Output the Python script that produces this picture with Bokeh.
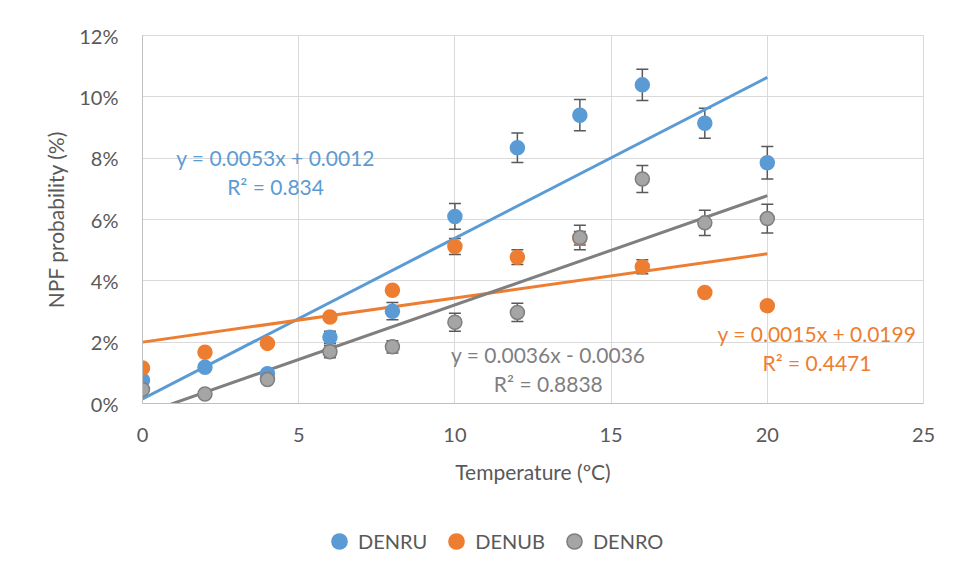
import numpy as np
from bokeh.plotting import figure
from bokeh.layouts import column
from bokeh.models import (ColumnDataSource, Whisker, TeeHead, FixedTicker,
                          NumeralTickFormatter, Legend, LegendItem)
from bokeh.core.properties import value
from bokeh.embed import file_html
from bokeh.resources import INLINE

# ---- data (fractions) ----
temperature = [0, 2, 4, 6, 8, 10, 12, 14, 16, 18, 20]
denru = [0.0076, 0.0118, 0.0097, 0.0216, 0.0301, 0.0610, 0.0834, 0.0940, 0.1039, 0.0914, 0.0785]
denru_err = [0.0008, 0.0010, 0.0008, 0.0020, 0.0028, 0.0042, 0.0048, 0.0051, 0.0051, 0.0049, 0.0053]
denub = [0.0116, 0.0167, 0.0196, 0.0282, 0.0369, 0.0512, 0.0477, 0.0539, 0.0446, 0.0362, 0.0319]
denub_err = [0.0005, 0.0005, 0.0005, 0.0008, 0.0010, 0.0026, 0.0024, 0.0022, 0.0023, 0.0012, 0.0008]
denro = [0.0046, 0.0031, 0.0078, 0.0169, 0.0185, 0.0265, 0.0297, 0.0541, 0.0732, 0.0589, 0.0603]
denro_err = [0.0005, 0.0005, 0.0006, 0.0020, 0.0020, 0.0029, 0.0030, 0.0040, 0.0044, 0.0041, 0.0047]

series_names = ["DENRU", "DENUB", "DENRO"]
equations = ["y = 0.0053x + 0.0012", "y = 0.0015x + 0.0199", "y = 0.0036x - 0.0036"]
r2_labels = ["R² = 0.834", "R² = 0.4471", "R² = 0.8838"]
label_x = [4.26, 21.59, 12.99]
label_y1 = [0.0801, 0.0227, 0.0160]
label_y2 = [0.0709, 0.0133, 0.0065]

x_ticks = [0, 5, 10, 15, 20, 25]
y_ticks = [0, 0.02, 0.04, 0.06, 0.08, 0.10, 0.12]

FONT = "Lato"
TXT = "#595959"
colors = ["#5B9BD5", "#ED7D31", "#A5A5A5"]
line_colors = ["#5B9BD5", "#ED7D31", "#7F7F7F"]
text_colors = ["#5B9BD5", "#ED7D31", "#7F7F7F"]
outline_colors = ["#5B9BD5", "#ED7D31", "#7F7F7F"]

fig = figure(width=954, height=510,
             min_border_left=142, min_border_right=31, min_border_top=35, min_border_bottom=107,
             x_range=(0, 25), y_range=(0, 0.12),
             output_backend="svg", toolbar_location=None,
             background_fill_color="white", border_fill_color="white")

fig.outline_line_color = "#D9D9D9"
fig.outline_line_width = 1

for ax in (fig.xaxis[0], fig.yaxis[0]):
    ax.axis_line_color = "#BFBFBF"
    ax.major_tick_line_color = None
    ax.minor_tick_line_color = None
    ax.major_label_text_font = FONT
    ax.major_label_text_font_size = "20px"
    ax.major_label_text_color = TXT
    ax.axis_label_text_font = FONT
    ax.axis_label_text_font_size = "21px"
    ax.axis_label_text_font_style = "normal"
    ax.axis_label_text_color = TXT

fig.xaxis.ticker = FixedTicker(ticks=x_ticks)
fig.yaxis.ticker = FixedTicker(ticks=y_ticks)
fig.yaxis.formatter = NumeralTickFormatter(format="0%")
fig.xaxis.axis_label = "Temperature (ºC)"
fig.yaxis.axis_label = "NPF probability (%)"
fig.xaxis.major_label_standoff = 18
fig.yaxis.major_label_standoff = 18
fig.xaxis.axis_label_standoff = 14
fig.yaxis.axis_label_standoff = 8

fig.xgrid.grid_line_color = "#D9D9D9"
fig.ygrid.grid_line_color = "#D9D9D9"
fig.xgrid.ticker = FixedTicker(ticks=x_ticks)
fig.ygrid.ticker = FixedTicker(ticks=y_ticks)

all_vals = [denru, denub, denro]
all_errs = [denru_err, denub_err, denro_err]
x = np.array(temperature, dtype=float)

# error bars
for vals, errs in zip(all_vals, all_errs):
    v = np.array(vals); e = np.array(errs)
    src = ColumnDataSource(dict(x=x, upper=v + e, lower=v - e))
    w = Whisker(base="x", upper="upper", lower="lower", source=src,
                line_color="#595959", line_width=1.5, level="underlay",
                upper_head=TeeHead(size=12, line_color="#595959", line_width=1.5),
                lower_head=TeeHead(size=12, line_color="#595959", line_width=1.5))
    fig.add_layout(w)

# trendlines (least-squares fit of each series)
for vals, lc in zip(all_vals, line_colors):
    slope, intercept = np.polyfit(x, np.array(vals), 1)
    xs = np.array([x.min(), x.max()])
    fig.line(xs, slope * xs + intercept, line_color=lc, line_width=3)

# markers
for vals, fc, oc in zip(all_vals, colors, outline_colors):
    fig.scatter(x, vals, size=14, fill_color=fc, line_color=oc, line_width=1.5, marker="circle")

# equation labels
for i in range(3):
    fig.text(x=[label_x[i]], y=[label_y1[i]], text=[equations[i]],
             text_font=value(FONT), text_font_size="21px", text_color=text_colors[i],
             text_align="center", text_baseline="middle")
    fig.text(x=[label_x[i]], y=[label_y2[i]], text=[r2_labels[i]],
             text_font=value(FONT), text_font_size="21px", text_color=text_colors[i],
             text_align="center", text_baseline="middle")

# legend strip below the chart (series drawn out of view; only the legend shows)
leg = figure(width=954, height=69, min_border=0, x_range=(-100, -99), y_range=(-100, -99),
             output_backend="svg", toolbar_location=None,
             x_axis_location=None, y_axis_location=None,
             background_fill_color="white", border_fill_color="white")
leg.outline_line_color = None
leg.grid.visible = False
leg_renderers = []
for vals, fc, oc in zip(all_vals, colors, outline_colors):
    r = leg.scatter(x, vals, size=14, fill_color=fc, line_color=oc, line_width=1.5, marker="circle")
    leg_renderers.append(r)

legend = Legend(items=[LegendItem(label=n, renderers=[r]) for n, r in zip(series_names, leg_renderers)],
                orientation="horizontal", location=(178, 19),
                label_text_font=FONT, label_text_font_size="20px", label_text_color=TXT,
                glyph_width=38, glyph_height=38, label_standoff=0, spacing=10,
                padding=0, margin=0, border_line_alpha=0, background_fill_alpha=0)
leg.add_layout(legend, "center")

p = column(fig, leg, spacing=0)

open("out.html", "w").write(file_html(p, INLINE))
